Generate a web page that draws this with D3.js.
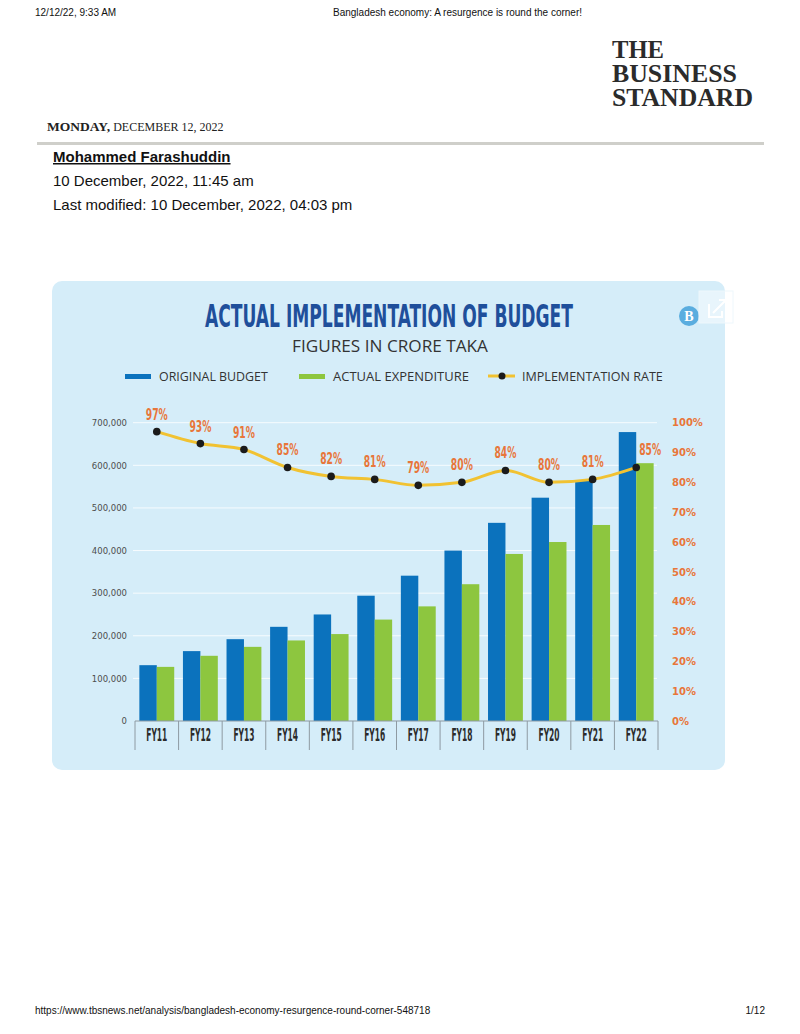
<!DOCTYPE html>
<html>
<head>
<meta charset="utf-8">
<script src="https://cdn.jsdelivr.net/npm/d3@7"></script>
<style>
body { margin: 0; background: #fff; }
svg { display: block; }
</style>
</head>
<body>
<svg id="page" width="800" height="1034"></svg>
<script>
"use strict"

// chart data (crore taka)
const years = ["FY11", "FY12", "FY13", "FY14", "FY15", "FY16", "FY17", "FY18", "FY19", "FY20", "FY21", "FY22"]
const originalBudget = [131000, 164000, 192000, 221000, 250000, 294000, 341000, 400000, 465000, 524000, 564000, 678000]
const actualExpenditure = [127000, 153000, 174000, 189000, 204000, 238000, 269000, 321000, 392000, 420000, 460000, 605000]
const implementationRate = [97, 93, 91, 85, 82, 81, 79, 80, 84, 80, 81, 85]
const seriesNames = ["ORIGINAL BUDGET", "ACTUAL EXPENDITURE", "IMPLEMENTATION RATE"]

const BLUE = "#0b72bd", GREEN = "#8dc63f", GOLD = "#f1c232", ORANGE = "#e8763a"
const NARROW = "'Liberation Sans Narrow', 'DejaVu Sans Condensed', sans-serif"
const SANS = "'Liberation Sans', Arial, sans-serif"
const SERIF = "'Liberation Serif', 'DejaVu Serif', serif"

const svg = d3.select("#page")

function text(g, x, y, str, size, opts = {}) {
    return g.append("text")
        .attr("x", x).attr("y", y)
        .attr("font-family", opts.family || SANS)
        .attr("font-size", size)
        .attr("font-weight", opts.weight || "normal")
        .attr("fill", opts.fill || "#111")
        .attr("text-anchor", opts.anchor || "start")
        .text(str)
}

// squeeze a text horizontally to a given width, around its anchor point
function fit(sel, width) {
    sel.each(function () {
        const w = this.getComputedTextLength()
        if (!w) return
        const tx = +this.getAttribute("x"), ty = +this.getAttribute("y")
        this.setAttribute("transform", `translate(${tx},${ty}) scale(${width / w},1) translate(${-tx},${-ty})`)
    })
}

// ---- page chrome (print header / article head) ----
const head = svg.append("g").attr("class", "head")
text(head, 35, 16, "12/12/22, 9:33 AM", 10)
text(head, 333, 16, "Bangladesh economy: A resurgence is round the corner!", 10)

const logo = head.append("g").attr("class", "logo")
;[["THE", 58, 52], ["BUSINESS", 82, 125], ["STANDARD", 106, 141]].forEach(([w, y, len]) => {
    fit(text(logo, 612, y, w, 26, {family: SERIF, weight: "bold", fill: "#2b2b2b"}), len)
})

const dateLine = text(head, 47, 131, "", 13.5, {family: SERIF, fill: "#222"})
dateLine.append("tspan").attr("font-weight", "bold").text("MONDAY,")
dateLine.append("tspan").attr("font-size", 12).text(" DECEMBER 12, 2022")

head.append("rect").attr("x", 37).attr("y", 142).attr("width", 727).attr("height", 3).attr("fill", "#cfcfca")

text(head, 53, 162, "Mohammed Farashuddin", 15, {weight: "bold"}).attr("text-decoration", "underline")
text(head, 53, 186, "10 December, 2022, 11:45 am", 15)
text(head, 53, 210, "Last modified: 10 December, 2022, 04:03 pm", 15)

text(head, 35, 1014, "https://www.tbsnews.net/analysis/bangladesh-economy-resurgence-round-corner-548718", 10)
text(head, 765, 1014, "1/12", 10, {anchor: "end"})

// ---- chart panel ----
const chart = svg.append("g").attr("class", "chart")
chart.append("rect")
    .attr("x", 52).attr("y", 281).attr("width", 673).attr("height", 489)
    .attr("rx", 10).attr("fill", "#d5edf9")

fit(text(chart, 389, 327, "ACTUAL IMPLEMENTATION OF BUDGET", 32, {family: NARROW, weight: "bold", fill: "#1f4f9b", anchor: "middle"}), 368)
fit(text(chart, 390, 352, "FIGURES IN CRORE TAKA", 16, {family: "'Open Sans', sans-serif", fill: "#333", anchor: "middle"}), 196)

// little "B" badge and the share box in the corner
chart.append("circle").attr("cx", 689).attr("cy", 316).attr("r", 10).attr("fill", "#5aaddf")
text(chart, 689, 321, "B", 14, {family: SERIF, weight: "bold", fill: "#fff", anchor: "middle"})
chart.append("rect").attr("x", 699).attr("y", 291).attr("width", 34).attr("height", 32)
    .attr("fill", "#fff").attr("fill-opacity", 0.45).attr("stroke", "#eef7fc")
chart.append("path").attr("d", "M709 304 v13 h13 v-6 M713 313 l12 -12 M719 300 h7 v7")
    .attr("fill", "none").attr("stroke", "#fff").attr("stroke-width", 2)

// legend
const legend = chart.append("g").attr("class", "legend")
const legendItems = [
    {name: seriesNames[0], x: 125, kind: "bar", color: BLUE, len: 109},
    {name: seriesNames[1], x: 299, kind: "bar", color: GREEN, len: 136},
    {name: seriesNames[2], x: 488, kind: "line", color: GOLD, len: 141},
]
legendItems.forEach(it => {
    if (it.kind == "bar") {
        legend.append("rect").attr("x", it.x).attr("y", 374).attr("width", 26).attr("height", 5).attr("fill", it.color)
    } else {
        legend.append("line").attr("x1", it.x).attr("x2", it.x + 27).attr("y1", 376).attr("y2", 376)
            .attr("stroke", it.color).attr("stroke-width", 3)
        legend.append("circle").attr("cx", it.x + 14).attr("cy", 376).attr("r", 3.5).attr("fill", "#1b1b1b")
    }
    fit(text(legend, it.x + 34, 381, it.name, 12.5, {family: "'Open Sans', sans-serif", fill: "#333"}), it.len)
})

// scales
const x = d3.scaleBand().domain(years).range([135, 658])
const xInner = d3.scaleBand().domain(["budget", "spent"]).range([0, x.bandwidth()]).paddingOuter(0.25)
const y = d3.scaleLinear().domain([0, 700000]).range([721, 422.7])
const yRate = d3.scaleLinear().domain([0, 100]).range([721, 422.7])

// grid
chart.append("g").attr("class", "grid")
    .selectAll("line").data(y.ticks(7).filter(d => d > 0)).join("line")
    .attr("x1", 133).attr("x2", 657)
    .attr("y1", d => y(d)).attr("y2", d => y(d))
    .attr("stroke", "#fff").attr("stroke-opacity", 0.8)

// axes
const leftAxis = chart.append("g").attr("transform", "translate(127,0)")
    .call(d3.axisLeft(y).ticks(7).tickSize(0).tickPadding(0).tickFormat(d3.format(",")))
leftAxis.select(".domain").remove()
leftAxis.selectAll("text").attr("font-family", "'DejaVu Sans', sans-serif").attr("font-size", 8.5).attr("fill", "#4d4d4d")

const rightAxis = chart.append("g").attr("transform", "translate(672,0)")
    .call(d3.axisRight(yRate).ticks(10).tickSize(0).tickPadding(0).tickFormat(d => d + "%"))
rightAxis.select(".domain").remove()
rightAxis.selectAll("text").attr("font-family", "'DejaVu Sans', sans-serif").attr("font-weight", "bold")
    .attr("font-size", 10).attr("fill", ORANGE)

// bars
const rows = years.map((yr, i) => ({year: yr, budget: originalBudget[i], spent: actualExpenditure[i], rate: implementationRate[i]}))
const barColor = {budget: BLUE, spent: GREEN}

chart.append("g").attr("class", "bars")
    .selectAll("g").data(rows).join("g")
    .attr("transform", d => `translate(${x(d.year)},0)`)
    .selectAll("rect").data(d => ["budget", "spent"].map(k => ({key: k, value: d[k]}))).join("rect")
    .attr("x", d => xInner(d.key))
    .attr("width", xInner.bandwidth())
    .attr("y", d => y(d.value))
    .attr("height", d => y(0) - y(d.value))
    .attr("fill", d => barColor[d.key])

// category axis: baseline, separators, labels
const cat = chart.append("g").attr("class", "cataxis")
cat.append("line").attr("x1", 135).attr("x2", 658).attr("y1", 721).attr("y2", 721).attr("stroke", "#8e9aa2")
cat.selectAll("line.sep").data(years.map(d => x(d)).concat([x.range()[1]])).join("line")
    .attr("class", "sep")
    .attr("x1", d => d).attr("x2", d => d).attr("y1", 721).attr("y2", 750)
    .attr("stroke", "#8e9aa2")
const catLabels = cat.selectAll("text").data(years).join("text")
    .attr("x", d => x(d) + x.bandwidth() / 2).attr("y", 741)
    .attr("text-anchor", "middle")
    .attr("font-family", NARROW).attr("font-weight", "bold").attr("font-size", 17)
    .attr("fill", "#2b2b2b")
    .text(d => d)
fit(catLabels, 21)

// implementation rate line
const cx = d => x(d.year) + x.bandwidth() / 2
const rate = chart.append("g").attr("class", "rate")
rate.append("path")
    .datum(rows)
    .attr("d", d3.line().x(cx).y(d => yRate(d.rate)).curve(d3.curveMonotoneX))
    .attr("fill", "none").attr("stroke", GOLD).attr("stroke-width", 3)
rate.selectAll("circle").data(rows).join("circle")
    .attr("cx", cx).attr("cy", d => yRate(d.rate)).attr("r", 3.8).attr("fill", "#1b1b1b")
const rateLabels = rate.selectAll("text").data(rows).join("text")
    .attr("x", (d, i) => cx(d) + (i == rows.length - 1 ? 14 : 0))
    .attr("y", d => yRate(d.rate) - 12)
    .attr("text-anchor", "middle")
    .attr("font-family", NARROW).attr("font-weight", "bold").attr("font-size", 15)
    .attr("fill", ORANGE)
    .text(d => d.rate + "%")
fit(rateLabels, 22)
</script>
</body>
</html>
